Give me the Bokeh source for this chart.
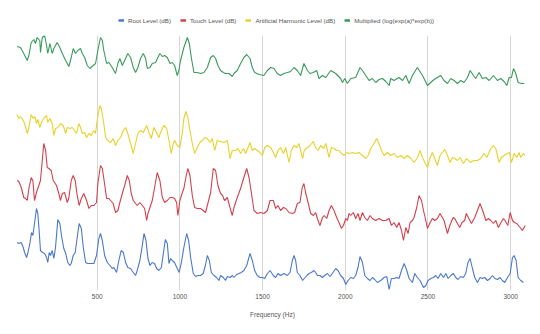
from bokeh.plotting import figure
from bokeh.models import Legend, LegendItem, FixedTicker, Range1d
from bokeh.layouts import column
from bokeh.embed import file_html
from bokeh.resources import INLINE

# Frequency (Hz), level (arbitrary stacked dB scale)
root_pts = [(16,48),(26,47),(41,48),(53,43),(61,38),(73,33),(80,37),(93,47),(103,58),(111,55),(121,67),(133,82),(141,77),(149,60),(157,40),(169,38),(182,37),(194,33),(201,28),(210,38),(218,35),(228,40),(238,32),(248,43),(262,71),(274,67),(286,53),(298,42),(310,37),(322,28),(335,25),(343,27),(355,35),(367,38),(379,53),(391,67),(404,62),(416,43),(430,28),(443,27),(460,27),(480,27),(496,35),(510,52),(520,57),(531,50),(545,35),(561,28),(577,25),(591,22),(601,23),(617,18),(631,30),(645,40),(658,38),(672,28),(685,23),(702,22),(718,18),(732,15),(742,20),(758,30),(770,42),(783,57),(795,50),(807,32),(819,25),(833,28),(847,27),(859,22),(873,20),(888,23),(900,37),(912,51),(924,47),(934,27),(944,32),(954,30),(968,28),(984,22),(996,18),(1009,28),(1024,43),(1041,57),(1053,50),(1065,33),(1081,17),(1095,14),(1109,15),(1125,15),(1141,17),(1154,25),(1166,35),(1178,30),(1190,18),(1206,15),(1222,13),(1236,10),(1246,15),(1263,13),(1276,10),(1287,14),(1303,13),(1317,15),(1327,13),(1343,16),(1357,17),(1371,18),(1387,20),(1404,25),(1424,37),(1438,30),(1452,20),(1468,15),(1484,13),(1499,13),(1513,12),(1529,17),(1545,20),(1565,15),(1579,13),(1593,17),(1609,15),(1629,17),(1650,15),(1666,18),(1680,30),(1690,35),(1700,30),(1710,18),(1726,15),(1742,10),(1752,12),(1768,15),(1781,17),(1795,18),(1811,20),(1821,18),(1831,15),(1847,15),(1862,13),(1875,15),(1892,17),(1908,14),(1922,17),(1942,22),(1956,20),(1972,15),(1989,12),(2003,6),(2017,10),(2033,13),(2049,12),(2063,15),(2077,23),(2089,34),(2104,28),(2118,15),(2134,12),(2150,10),(2164,13),(2178,11),(2194,8),(2215,10),(2235,13),(2251,14),(2265,1),(2279,12),(2295,12),(2311,13),(2325,12),(2340,20),(2356,27),(2372,20),(2386,12),(2406,8),(2420,17),(2436,13),(2452,10),(2473,3),(2487,5),(2501,10),(2517,12),(2533,13),(2547,15),(2561,12),(2577,17),(2594,13),(2608,17),(2622,12),(2638,15),(2654,17),(2668,13),(2682,11),(2698,14),(2714,13),(2728,17),(2742,28),(2755,32),(2769,22),(2783,13),(2799,8),(2815,13),(2829,12),(2843,13),(2860,10),(2876,12),(2890,15),(2904,12),(2920,11),(2936,13),(2950,10),(2964,8),(2981,13),(2997,17),(3011,33),(3021,35),(3033,30),(3045,13),(3061,10),(3077,8)]

touch_pts = [(16,110),(26,109),(41,103),(56,93),(67,92),(77,90),(87,102),(101,113),(111,110),(121,90),(133,98),(147,105),(157,110),(168,130),(177,147),(188,140),(198,123),(208,122),(222,120),(234,110),(242,108),(254,105),(268,97),(278,90),(289,97),(303,98),(319,88),(329,93),(343,110),(355,115),(367,110),(379,95),(391,85),(404,92),(419,97),(436,90),(450,82),(464,85),(480,85),(496,88),(504,107),(520,125),(531,122),(540,112),(557,92),(571,92),(581,90),(597,87),(611,78),(625,80),(637,88),(652,97),(666,105),(682,115),(694,110),(706,97),(718,90),(732,87),(742,85),(758,88),(773,85),(787,82),(799,70),(807,77),(819,83),(833,90),(847,103),(863,118),(879,110),(894,93),(908,88),(924,90),(940,93),(954,93),(968,92),(980,88),(988,75),(1000,90),(1015,98),(1024,102),(1036,113),(1048,122),(1061,115),(1075,95),(1089,83),(1105,82),(1125,82),(1141,80),(1155,78),(1169,87),(1186,98),(1202,122),(1216,120),(1230,105),(1246,97),(1258,95),(1270,90),(1287,93),(1303,83),(1317,75),(1327,83),(1347,93),(1367,102),(1387,113),(1404,122),(1418,113),(1432,98),(1448,80),(1468,77),(1488,78),(1508,77),(1529,80),(1545,90),(1565,90),(1579,82),(1593,85),(1609,80),(1626,83),(1640,82),(1660,78),(1680,77),(1694,78),(1710,87),(1726,88),(1740,103),(1750,107),(1760,98),(1775,88),(1791,77),(1807,75),(1821,78),(1831,72),(1847,65),(1862,73),(1872,75),(1888,72),(1902,80),(1916,85),(1932,80),(1948,73),(1962,68),(1977,62),(1989,65),(2003,72),(2013,70),(2023,77),(2033,75),(2049,78),(2063,72),(2077,77),(2089,70),(2104,78),(2118,73),(2134,70),(2150,75),(2164,72),(2184,70),(2204,72),(2225,70),(2245,70),(2265,72),(2279,65),(2295,68),(2311,63),(2325,68),(2340,60),(2352,50),(2366,63),(2380,57),(2392,68),(2406,70),(2416,73),(2432,83),(2446,95),(2461,90),(2473,80),(2487,70),(2497,62),(2513,68),(2527,72),(2541,70),(2557,72),(2573,77),(2587,73),(2597,70),(2618,57),(2632,65),(2652,73),(2662,72),(2678,67),(2692,63),(2706,68),(2722,70),(2732,77),(2747,72),(2763,67),(2783,73),(2799,80),(2815,87),(2835,78),(2850,70),(2866,72),(2880,70),(2896,67),(2910,70),(2926,63),(2942,68),(2956,72),(2966,70),(2983,65),(2997,78),(3011,70),(3023,68),(3037,67),(3057,63),(3071,60),(3088,65)]

harmonic_pts = [(16,176),(26,172),(36,174),(47,172),(61,167),(77,157),(87,163),(101,176),(113,172),(123,174),(133,167),(141,171),(153,163),(168,170),(182,173),(194,175),(201,168),(214,172),(228,167),(238,155),(248,162),(262,163),(278,167),(295,165),(309,157),(319,163),(335,162),(349,163),(363,160),(375,157),(389,167),(399,163),(410,157),(424,158),(436,153),(450,157),(464,155),(480,160),(490,157),(500,170),(516,185),(525,182),(537,170),(551,153),(565,150),(581,148),(597,152),(611,145),(625,150),(641,153),(658,160),(672,163),(685,157),(702,147),(718,137),(732,147),(746,157),(762,160),(779,158),(799,165),(813,158),(827,152),(843,163),(859,158),(873,153),(888,160),(903,165),(920,162),(934,150),(948,137),(960,147),(968,150),(984,145),(1000,143),(1015,158),(1024,172),(1036,179),(1048,173),(1061,160),(1075,147),(1089,137),(1105,143),(1121,148),(1136,150),(1150,153),(1166,152),(1182,148),(1196,152),(1210,140),(1226,150),(1246,149),(1266,148),(1287,150),(1303,132),(1317,140),(1337,140),(1351,142),(1367,137),(1384,142),(1398,137),(1412,143),(1424,148),(1438,140),(1452,142),(1468,140),(1484,138),(1499,135),(1513,143),(1529,145),(1549,143),(1565,138),(1579,133),(1593,140),(1609,143),(1626,137),(1640,143),(1660,128),(1674,140),(1690,145),(1706,143),(1720,147),(1742,132),(1752,140),(1771,143),(1787,145),(1807,149),(1821,143),(1835,140),(1851,145),(1868,142),(1882,147),(1902,133),(1916,143),(1932,142),(1948,140),(1962,140),(1977,137),(1993,135),(2009,138),(2023,137),(2043,138),(2063,137),(2083,138),(2104,135),(2124,132),(2138,135),(2154,142),(2174,147),(2190,152),(2204,147),(2219,140),(2235,135),(2255,138),(2275,135),(2295,137),(2315,133),(2335,135),(2356,132),(2376,135),(2396,132),(2416,128),(2436,133),(2452,140),(2467,133),(2481,128),(2497,123),(2513,133),(2527,138),(2541,132),(2557,125),(2573,135),(2587,138),(2602,141),(2618,135),(2634,128),(2648,133),(2662,132),(2678,130),(2694,133),(2714,127),(2734,132),(2755,128),(2779,130),(2799,130),(2819,132),(2839,137),(2856,133),(2880,142),(2896,145),(2910,142),(2930,128),(2944,133),(2960,135),(2981,137),(2993,138),(3005,128),(3021,137),(3037,133),(3051,138),(3061,133),(3077,137),(3085,135)]

multiplied_pts = [(16,244),(36,243),(56,237),(77,230),(87,235),(101,248),(117,251),(127,247),(137,253),(153,250),(157,238),(168,253),(182,255),(194,245),(201,237),(214,247),(228,237),(238,242),(258,248),(274,243),(289,237),(309,230),(329,224),(343,233),(355,242),(369,237),(383,240),(399,242),(410,237),(424,233),(440,225),(456,222),(476,225),(490,227),(504,240),(520,253),(531,250),(540,240),(557,227),(571,228),(591,223),(611,217),(625,227),(637,232),(652,225),(666,230),(685,237),(702,233),(718,223),(732,218),(746,223),(762,232),(779,237),(793,232),(803,222),(819,223),(833,227),(853,228),(867,233),(879,237),(894,234),(908,235),(924,233),(940,227),(954,228),(968,225),(984,215),(994,220),(1004,230),(1024,243),(1045,253),(1057,247),(1069,233),(1085,218),(1105,218),(1125,217),(1145,218),(1166,223),(1186,233),(1202,235),(1216,232),(1230,225),(1246,220),(1263,218),(1276,217),(1297,217),(1317,214),(1327,217),(1347,220),(1367,227),(1387,233),(1404,236),(1424,232),(1438,223),(1452,218),(1478,216),(1508,215),(1529,220),(1549,223),(1569,222),(1589,217),(1609,215),(1629,217),(1650,218),(1670,219),(1690,223),(1710,220),(1730,215),(1750,227),(1771,220),(1787,217),(1807,218),(1827,220),(1841,212),(1862,215),(1882,213),(1912,220),(1942,217),(1972,212),(1983,208),(1997,212),(2013,207),(2033,212),(2063,213),(2089,223),(2104,220),(2124,215),(2144,210),(2164,212),(2184,208),(2204,211),(2225,212),(2245,209),(2265,205),(2275,212),(2295,210),(2325,213),(2346,210),(2366,215),(2386,207),(2406,215),(2436,223),(2467,215),(2497,205),(2517,208),(2537,211),(2557,213),(2577,215),(2597,210),(2618,207),(2638,212),(2658,210),(2678,207),(2698,210),(2718,208),(2739,213),(2755,220),(2775,215),(2789,212),(2809,218),(2829,212),(2850,213),(2870,210),(2896,215),(2920,210),(2940,212),(2960,209),(2977,205),(2991,213),(3005,213),(3017,222),(3031,217),(3045,208),(3066,207),(3082,207)]

series_names = ["Root Level (dB)", "Touch Level (dB)", "Artificial Harmonic Level (dB)",
                "Multiplied (log(exp(a)*exp(b))"]
series_colors = ["#4a78cc", "#d4404c", "#ead12a", "#3a9a5c"]
x_ticks = [500, 1000, 1500, 2000, 2500, 3000]

FONT = "Liberation Sans"

# ---- legend strip (top) ----
leg = figure(width=540, height=35, output_backend="svg", toolbar_location=None,
             x_range=Range1d(0, 1), y_range=Range1d(0, 1),
             min_border=0, min_border_left=0, min_border_right=0,
             min_border_top=0, min_border_bottom=0)
leg.axis.visible = False
leg.grid.visible = False
leg.outline_line_color = None
legend_items = []
for name, col in zip(series_names, series_colors):
    sw = leg.line([-10, -9], [-10, -10], line_color=col, line_width=2.5)
    legend_items.append(LegendItem(label=name, renderers=[sw]))
legend = Legend(items=legend_items, orientation="horizontal", location=(104, 11),
                glyph_width=6, glyph_height=8, label_height=8, label_standoff=4,
                spacing=9, padding=0, margin=0, border_line_color=None,
                background_fill_alpha=0, label_text_font=FONT,
                label_text_font_size="6.2px", label_text_color="#555555")
leg.add_layout(legend, "center")

# ---- main chart ----
p = figure(width=540, height=299, output_backend="svg", toolbar_location=None,
           x_range=Range1d(0, 3120), y_range=Range1d(0, 255),
           min_border_left=14, min_border_right=10, min_border_top=0, min_border_bottom=44)
p.outline_line_color = None
p.yaxis.visible = False
p.ygrid.visible = False
p.xaxis.ticker = FixedTicker(ticks=x_ticks)
p.xgrid.grid_line_color = "#d6d6d6"
p.xgrid.grid_line_width = 1
p.xaxis.axis_line_color = None
p.xaxis.major_tick_line_color = None
p.xaxis.minor_tick_line_color = None
p.xaxis.major_tick_out = 0
p.xaxis.major_tick_in = 0
p.xaxis.major_label_text_font = FONT
p.xaxis.major_label_text_font_size = "6.5px"
p.xaxis.major_label_text_color = "#555555"
p.xaxis.major_label_standoff = 3
p.xaxis.axis_label = "Frequency (Hz)"
p.xaxis.axis_label_text_font = FONT
p.xaxis.axis_label_text_font_size = "6.5px"
p.xaxis.axis_label_text_font_style = "normal"
p.xaxis.axis_label_text_color = "#555555"
p.xaxis.axis_label_standoff = 9

for pts, col in zip([root_pts, touch_pts, harmonic_pts, multiplied_pts], series_colors):
    xs = [a for a, b in pts]
    ys = [b for a, b in pts]
    p.line(xs, ys, line_color=col, line_width=1.1)

layout = column(leg, p, spacing=0)
open("out.html", "w").write(file_html(layout, INLINE))
